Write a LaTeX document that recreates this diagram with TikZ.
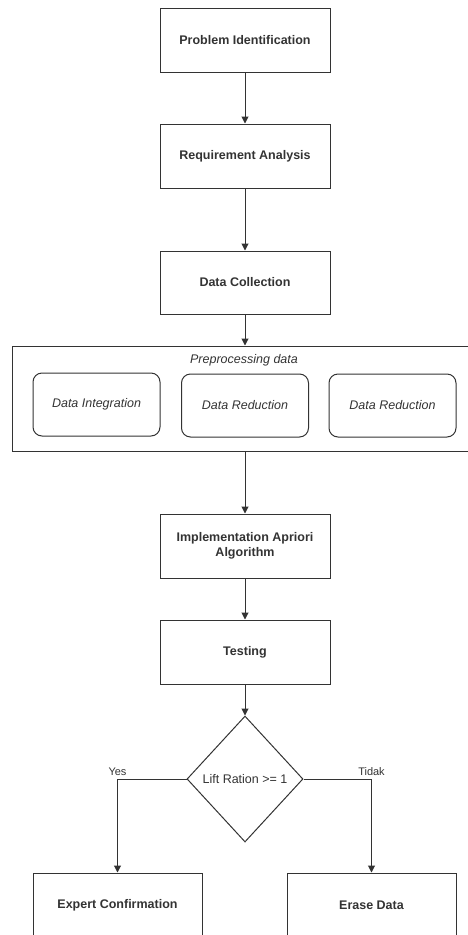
\documentclass[tikz,border=0pt]{standalone}
\usepackage{fontspec}
\setmainfont{Liberation Sans}
\usetikzlibrary{arrows.meta,shapes.geometric}
\definecolor{ink}{HTML}{333333}
\begin{document}
\begin{tikzpicture}[x=1pt,y=-1pt]
    \tikzstyle{stepbox}=[draw=ink,text=ink,line width=1pt,minimum width=170pt,minimum height=64pt,align=center,font=\bfseries\fontsize{12.5}{15}\selectfont]
    \tikzstyle{subbox}=[draw=ink,text=ink,line width=1pt,rounded corners=9pt,minimum width=127pt,minimum height=63pt,font=\itshape\fontsize{12.5}{15}\selectfont]
    \tikzstyle{decision}=[draw=ink,text=ink,line width=1pt,diamond,inner sep=0pt,minimum width=116pt,minimum height=126pt,font=\fontsize{12.5}{15}\selectfont]
    \tikzstyle{flow}=[draw=ink,line width=1pt,-{Triangle[length=7pt,width=7pt]}]
    \tikzstyle{answer}=[text=ink,inner sep=1pt,font=\fontsize{11}{13}\selectfont]
    \useasboundingbox (0,0) rectangle (468,935);
    % main column
    \node[stepbox] (problem) at (245,40) {Problem Identification};
    \node[stepbox] (requirement) at (245,156) {Requirement Analysis};
    \node[stepbox,minimum height=63pt] (collection) at (245,282.5) {Data Collection};
    % preprocessing group
    \node[draw=ink,line width=1pt,minimum width=466pt,minimum height=105pt] (prep) at (245,398.5) {};
    \node[text=ink,font=\itshape\fontsize{12.5}{15}\selectfont] (preptitle) at (244,360) {Preprocessing data};
    \node[subbox] (integration) at (96.5,404.5) {Data Integration};
    \node[subbox] (reduction) at (245,405.5) {Data Reduction};
    \node[subbox] (reduction2) at (392.5,405.5) {Data Reduction};
    \node[stepbox] (apriori) at (245,546) {Implementation Apriori\\Algorithm};
    \node[stepbox] (testing) at (245,652) {Testing};
    \node[decision] (lift) at (245,779) {Lift Ration >= 1};
    \node[stepbox,minimum width=169pt] (expert) at (117.5,905) {Expert Confirmation};
    \node[stepbox,minimum width=169pt] (erase) at (371.5,905) {Erase Data};
    % connectors
    \draw[flow] (problem) -- (requirement);
    \draw[flow] (requirement) -- (collection);
    \draw[flow] (collection) -- (prep);
    \draw[flow] (prep) -- (apriori);
    \draw[flow] (apriori) -- (testing);
    \draw[flow] (testing) -- (lift);
    \draw[flow] (lift.west) -| node[answer,pos=0.5,above=2pt] {Yes} (expert.north);
    \draw[flow] (lift.east) -| node[answer,pos=0.5,above=2pt] {Tidak} (erase.north);
\end{tikzpicture}
\end{document}
